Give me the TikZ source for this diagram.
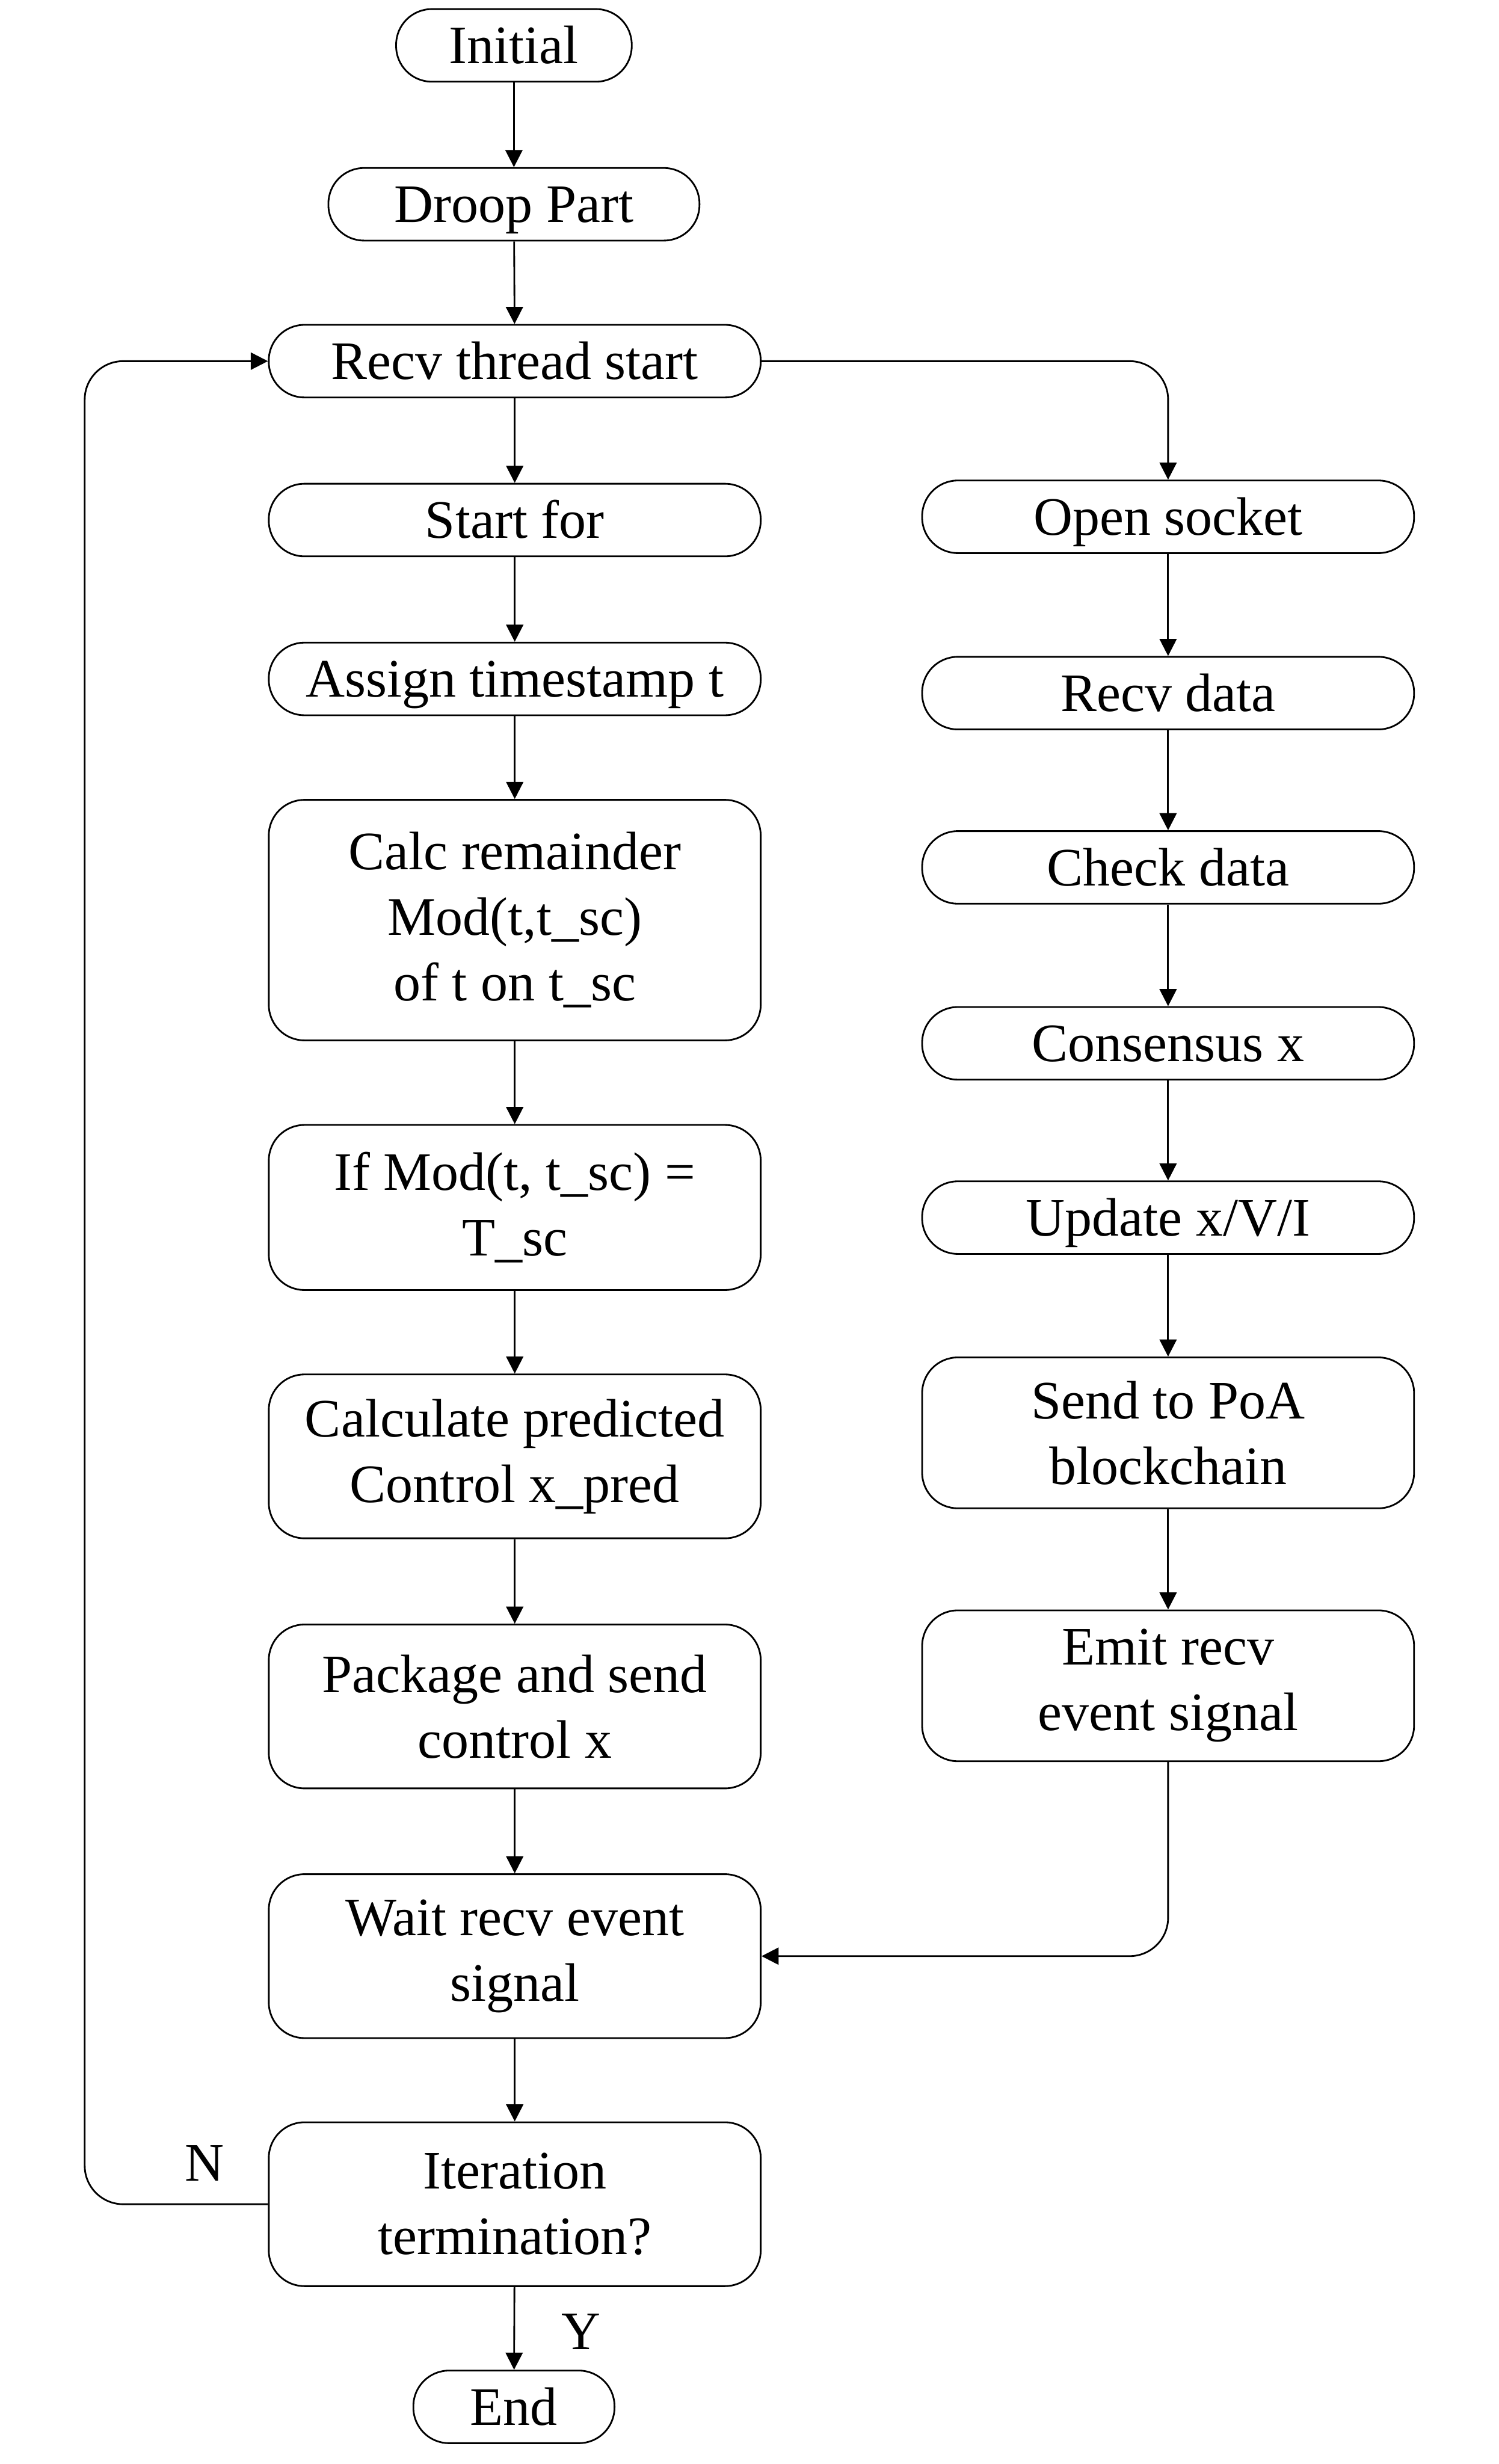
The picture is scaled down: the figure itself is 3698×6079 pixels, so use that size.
\documentclass[tikz,border=0pt]{standalone}
\usepackage{fontspec}
\setmainfont{Liberation Serif}
\usetikzlibrary{arrows.meta}
\begin{document}
\begin{tikzpicture}[x=0.01cm,y=-0.01cm,
  base/.style={draw,line width=1.2pt,rounded corners=25pt,inner sep=0pt,
    font=\fontsize{38}{46}\selectfont,minimum width=12.13cm},
  box/.style={base,align=center},
  short/.style={base,minimum height=1.79cm,text height=25.5pt,text depth=0pt},
  tall/.style={box,minimum height=4.04cm},
  arr/.style={line width=1.2pt,-{Triangle[width=12pt,length=12pt]}},
  lbl/.style={font=\fontsize{38}{46}\selectfont,inner sep=0pt}]
\useasboundingbox (0,0) rectangle (3698,6079);
% left column
\node[short,minimum width=5.81cm] (init) at (1268,112) {Initial};
\node[short,minimum width=9.15cm] (droop) at (1268,504) {Droop Part};
\node[short] (recv) at (1270,891) {Recv thread start};
\node[short] (startfor) at (1270,1283) {Start for};
\node[short] (assign) at (1270,1675) {Assign timestamp t};
\node[box,minimum height=5.93cm] (calc) at (1270,2270) {Calc remainder\\Mod(t,t\_sc)\\of t on t\_sc};
\node[tall,minimum height=4.07cm] (ifmod) at (1270,2979) {If Mod(t, t\_sc) =\\T\_sc};
\node[tall] (pred) at (1270,3593) {Calculate predicted\\Control x\_pred};
\node[tall] (pack) at (1270,4210) {Package and send\\control x};
\node[tall] (wait) at (1270,4826) {Wait recv event\\signal};
\node[tall] (iter) at (1270,5438) {Iteration\\termination?};
\node[short,minimum width=4.96cm] (end) at (1268,5938) {End};
% right column
\node[short] (open) at (2882,1275) {Open socket};
\node[short] (rdata) at (2882,1710) {Recv data};
\node[short] (check) at (2882,2140) {Check data};
\node[short] (cons) at (2882,2574) {Consensus x};
\node[short] (upd) at (2882,3004) {Update x/V/I};
\node[box,minimum height=3.72cm] (send) at (2882,3535) {Send to PoA\\blockchain};
\node[box,minimum height=3.72cm] (emit) at (2882,4159) {Emit recv\\event signal};
% labels
\node[lbl] (nl) at (504,5337) {N};
\node[lbl] (yl) at (1434,5752) {Y};
\coordinate (lp) at (209,891);
% connectors
\draw[arr] (init) -- (droop);
\draw[arr] (droop) -- (recv);
\draw[arr] (recv) -- (startfor);
\draw[arr] (startfor) -- (assign);
\draw[arr] (assign) -- (calc);
\draw[arr] (calc) -- (ifmod);
\draw[arr] (ifmod) -- (pred);
\draw[arr] (pred) -- (pack);
\draw[arr] (pack) -- (wait);
\draw[arr] (wait) -- (iter);
\draw[arr] (iter) -- (end);
\draw[arr] (open) -- (rdata);
\draw[arr] (rdata) -- (check);
\draw[arr] (check) -- (cons);
\draw[arr] (cons) -- (upd);
\draw[arr] (upd) -- (send);
\draw[arr] (send) -- (emit);
\draw[arr,rounded corners=27pt] (recv.east) -| (open.north);
\draw[arr,rounded corners=27pt] (emit.south) |- (wait.east);
\draw[arr,rounded corners=27pt] (iter.west) -| (lp) -- (recv.west);
\end{tikzpicture}
\end{document}
